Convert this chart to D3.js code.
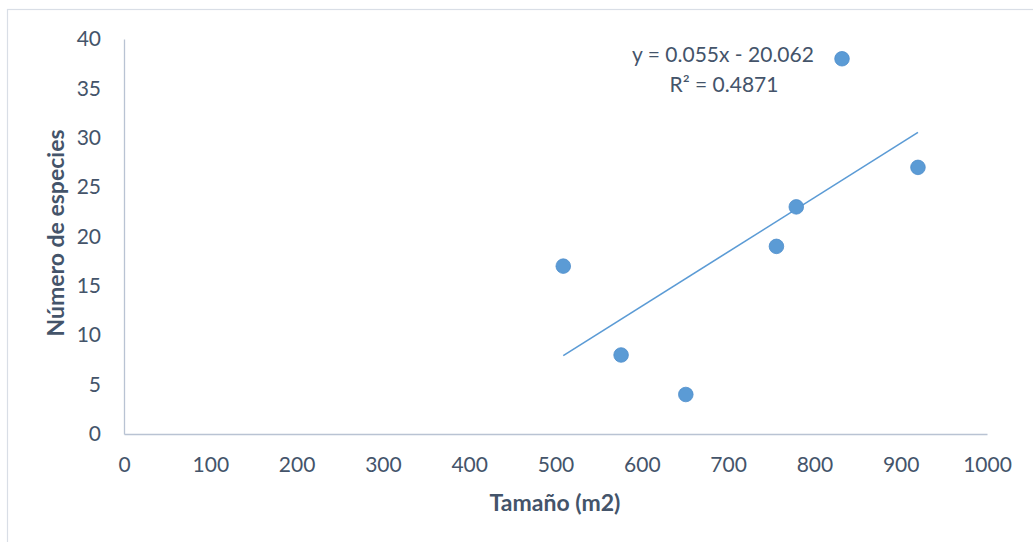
<!DOCTYPE html>
<html><head><meta charset="utf-8">
<script src="https://cdn.jsdelivr.net/npm/d3@7"></script>
<style>
html,body{margin:0;padding:0;background:#fff;}
svg{display:block;font-family:Lato,"Open Sans",sans-serif;}
</style></head>
<body><svg id="c" width="1033" height="542"></svg>
<script>
const sizes = [509, 576, 651, 756, 779, 832, 920];
const species = [17, 8, 4, 19, 23, 38, 27];
const trendSlope = 0.055;
const trendIntercept = -20.062;
const rSquared = 0.4871;
const xTicks = [0,100,200,300,400,500,600,700,800,900,1000];
const yTicks = [0,5,10,15,20,25,30,35,40];
const xTitle = "Tamaño (m2)";
const yTitle = "Número de especies";

const svg = d3.select("#c");
const textColor = "#44546A", axisColor = "#B9C3D3", dotColor = "#5B9BD5";

// chart frame (only top and left visible)
svg.append("rect").attr("x",7.5).attr("y",9.5).attr("width",1100).attr("height",600)
  .attr("fill","none").attr("stroke","#D9DEE6").attr("stroke-width",1.2);

const x = d3.scaleLinear().domain([0,1000]).range([124,987]);
const y = d3.scaleLinear().domain([0,40]).range([434,39]);

// axes
const xAxis = svg.append("g").attr("transform",`translate(0,${y(0)})`)
  .call(d3.axisBottom(x).tickValues(xTicks).tickFormat(d3.format("d")).tickSize(0).tickPadding(23));
const yAxis = svg.append("g").attr("transform",`translate(${x(0)},0)`)
  .call(d3.axisLeft(y).tickValues(yTicks).tickFormat(d3.format("d")).tickSize(0).tickPadding(23));
[xAxis,yAxis].forEach(g=>{
  g.select(".domain").attr("stroke",axisColor).attr("stroke-width",1.3);
  g.selectAll("text").attr("fill",textColor).style("font-size","21px").style("font-family","Lato,'Open Sans',sans-serif");
});

// trend line
const x0 = d3.min(sizes), x1 = d3.max(sizes);
svg.append("line")
  .attr("x1",x(x0)).attr("y1",y(trendSlope*x0+trendIntercept))
  .attr("x2",x(x1)).attr("y2",y(trendSlope*x1+trendIntercept))
  .attr("stroke",dotColor).attr("stroke-width",1.6);

// points
svg.selectAll("circle.pt").data(sizes.map((s,i)=>[s,species[i]])).join("circle")
  .attr("class","pt").attr("cx",d=>x(d[0])).attr("cy",d=>y(d[1])).attr("r",7.3)
  .attr("fill",dotColor).attr("stroke","#4F8ECB").attr("stroke-width",0.8);

// equation
svg.append("text").attr("x",723).attr("y",62).attr("text-anchor","middle")
  .attr("fill",textColor).style("font-size","21px")
  .text(`y = ${trendSlope}x - ${Math.abs(trendIntercept).toFixed(3)}`);
svg.append("text").attr("x",724).attr("y",92).attr("text-anchor","middle")
  .attr("fill",textColor).style("font-size","21px").text(`R² = ${rSquared}`);

// titles
svg.append("text").attr("x",555).attr("y",511).attr("text-anchor","middle")
  .attr("fill",textColor).style("font-size","23px").style("font-weight","bold").text(xTitle);
svg.append("text").attr("transform","translate(64,233) rotate(-90)").attr("text-anchor","middle")
  .attr("fill",textColor).style("font-size","23px").style("font-weight","bold").text(yTitle);
</script></body></html>
